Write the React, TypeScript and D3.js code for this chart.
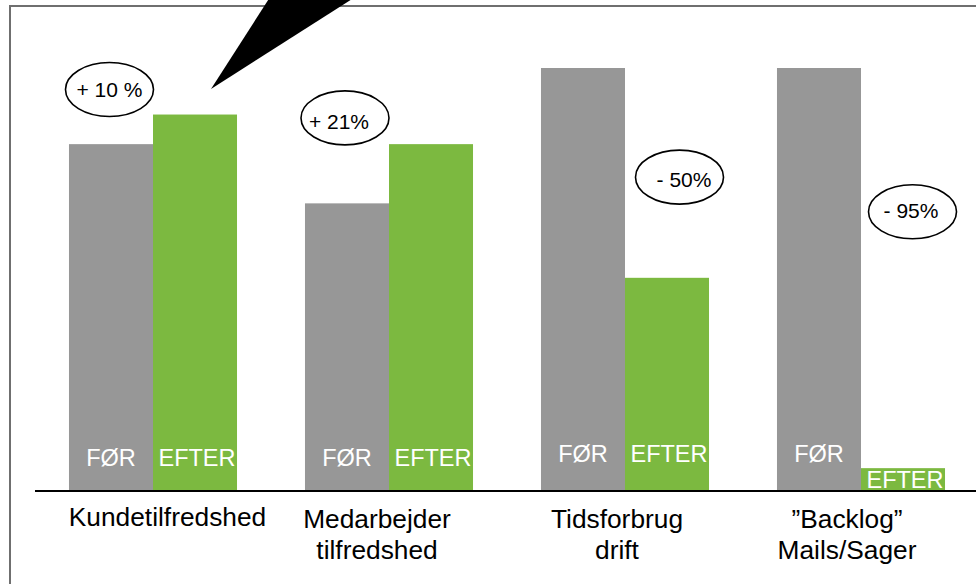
import React from "react";
import * as d3 from "d3";

const categories: string[][] = [
  ["Kundetilfredshed"],
  ["Medarbejder", "tilfredshed"],
  ["Tidsforbrug", "drift"],
  ["\u201DBacklog\u201D", "Mails/Sager"],
];
const seriesNames = ["FØR", "EFTER"];
const forValues = [82, 68, 100, 100];
const efterValues = [89, 82, 50.4, 5.4];
const changeLabels = ["+ 10 %", "+ 21%", "- 50%", "- 95%"];

const W = 976;
const H = 584;
const GRAY = "#979797";
const GREEN = "#7cb940";
const FONT = "'Liberation Sans', Arial, sans-serif";

// label placement offsets relative to group centres
const labelDx = [14.5, -12, -8, -14];
const labelDy = [-1, 1, 1, 1];

// annotation layout (bubble placement relative to groups)
const bubbleLayout = [
  { series: 0, dx: -1.5, v: 94.9, tdx: 0, tdy: 7 },
  { series: 0, dx: -2, v: 88.2, tdx: -6, tdy: 11 },
  { series: 1, dx: 12.5, v: 74.2, tdx: 4.5, tdy: 9.7 },
  { series: 1, dx: 9.5, v: 66, tdx: -1.5, tdy: 6.3 },
];

export default function App() {
  const x0 = d3
    .scaleBand<number>()
    .domain(d3.range(categories.length))
    .range([35, 979])
    .paddingInner(0.288)
    .paddingOuter(0.144);
  const x1 = d3
    .scaleBand<string>()
    .domain(seriesNames)
    .range([0, x0.bandwidth()])
    .padding(0);
  const y = d3.scaleLinear().domain([0, 100]).range([491, 68]);
  const baseY = y(0);

  const bars = categories.flatMap((_, i) =>
    seriesNames.map((s, j) => {
      const v = j === 0 ? forValues[i] : efterValues[i];
      return { i, s, j, v };
    })
  );

  return (
    <svg
      width={W}
      height={H}
      style={{ position: "absolute", left: 0, top: 0, display: "block", background: "#fff" }}
      fontFamily={FONT}
    >
      <rect x={0} y={0} width={W} height={H} fill="#fff" />
      {/* frame */}
      <line x1={10} y1={6} x2={W} y2={6} stroke="#6f6f6f" strokeWidth={2} />
      <line x1={10} y1={5} x2={10} y2={H} stroke="#6f6f6f" strokeWidth={2} />

      {/* bars */}
      {bars.map((b) => {
        const bx = (x0(b.i) ?? 0) + (x1(b.s) ?? 0);
        const top = y(b.v);
        const h = baseY - top;
        const short = h < 40;
        const ly = short ? baseY - 3 : b.i >= 2 ? baseY - 29 : baseY - 25;
        return (
          <g key={`${b.i}-${b.j}`}>
            <rect
              x={bx}
              y={top}
              width={x1.bandwidth()}
              height={h}
              fill={b.j === 0 ? GRAY : GREEN}
            />
            <text
              x={bx + x1.bandwidth() / 2 + (b.j === 1 ? 2 : 0)}
              y={ly}
              textAnchor="middle"
              fill="#fff"
              fontSize={23.5}
            >
              {b.s}
            </text>
          </g>
        );
      })}

      {/* baseline */}
      <line x1={35} y1={baseY} x2={W} y2={baseY} stroke="#000" strokeWidth={2} />

      {/* category labels */}
      {categories.map((lines, i) => {
        const cx = (x0(i) ?? 0) + x0.bandwidth() / 2 + labelDx[i];
        return (
          <text key={i} x={cx} textAnchor="middle" fontSize={26.3} fill="#000">
            {lines.map((l, k) => (
              <tspan key={k} x={cx} y={527 + labelDy[i] + k * 31}>
                {l}
              </tspan>
            ))}
          </text>
        );
      })}

      {/* change bubbles */}
      {changeLabels.map((lab, i) => {
        const L = bubbleLayout[i];
        const cx =
          (x0(i) ?? 0) + (x1(seriesNames[L.series]) ?? 0) + x1.bandwidth() / 2 + L.dx;
        const cy = y(L.v);
        return (
          <g key={lab}>
            <ellipse cx={cx} cy={cy} rx={44} ry={27} fill="#fff" stroke="#000" strokeWidth={1.6} />
            <text
              x={cx + L.tdx}
              y={cy + L.tdy}
              textAnchor="middle"
              fontSize={21}
              fill="#000"
            >
              {lab}
            </text>
          </g>
        );
      })}

      {/* callout pointer */}
      <polygon points="211,89 272,-6 360,-6" fill="#000" />
    </svg>
  );
}
